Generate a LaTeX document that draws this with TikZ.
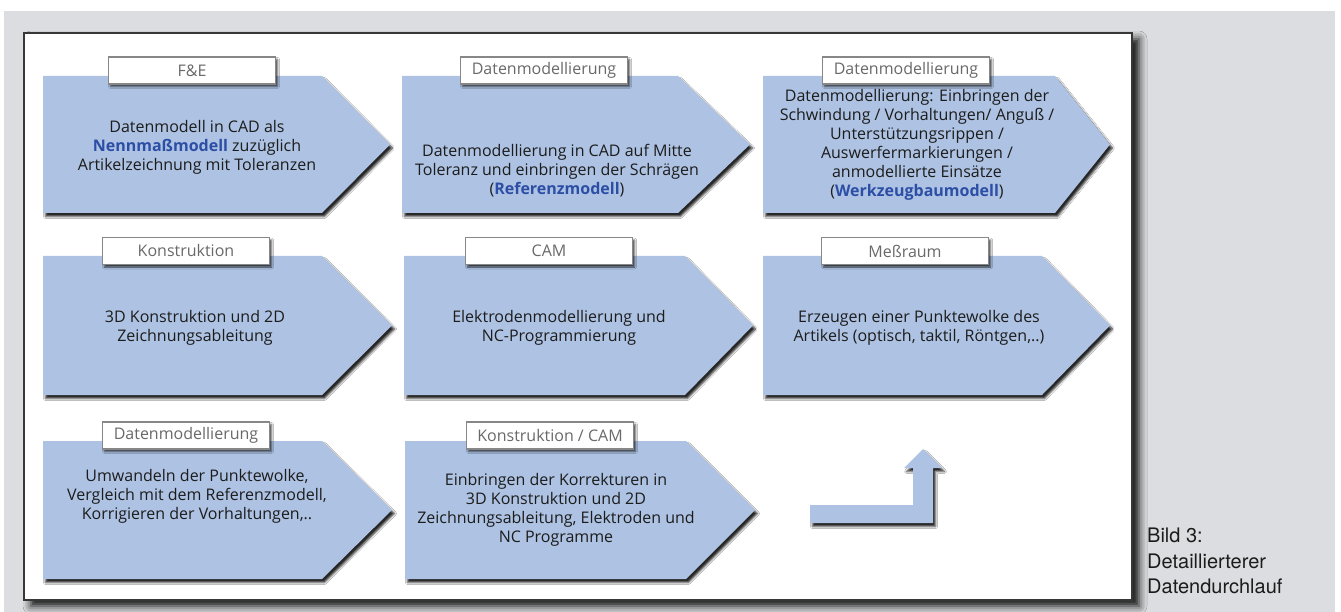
\documentclass[tikz,border=0pt]{standalone}
\usepackage{fontspec}
\setmainfont{Open Sans}
\newfontfamily\capfont{TeX Gyre Heros}
\usetikzlibrary{shadows,shadows.blur}
\definecolor{bgray}{RGB}{220,221,224}
\definecolor{chevfill}{RGB}{174,195,227}
\definecolor{hiblue}{RGB}{45,78,165}
\definecolor{txt}{RGB}{28,28,28}
\definecolor{lbltxt}{RGB}{105,105,105}
\definecolor{lblline}{RGB}{135,135,135}
\definecolor{panelline}{RGB}{55,55,55}
\newcommand\chevpath[5]{\path[chev] (#1,#2) -- (#4,#2) -- (#5,{(#2+#3)/2}) -- (#4,#3) -- (#1,#3) -- cycle;}
\newcommand\hiword[1]{\textbf{\color{hiblue}#1}}
\begin{document}
\begin{tikzpicture}[x=1pt,y=-1pt,
  chev/.style={fill=chevfill, blur shadow={shadow xshift=2.5pt, shadow yshift=-3.5pt, shadow blur radius=2pt, shadow opacity=85}},
  body/.style={align=center, font=\fontsize{16}{19}\selectfont, text=txt, inner sep=0pt},
  lbl/.style={draw=lblline, line width=1.2pt, fill=white, minimum width=167pt, minimum height=27pt,
    font=\fontsize{16}{18}\selectfont, text=lbltxt, inner sep=0pt,
    blur shadow={shadow xshift=2pt, shadow yshift=-2.5pt, shadow blur radius=2pt, shadow opacity=75}},
  captxt/.style={align=left, font=\capfont\fontsize{20}{25.5}\selectfont, text=txt, inner sep=0pt}]
\useasboundingbox (0,0) rectangle (1341,612);
\fill[white] (0,0) rectangle (1341,612);
\fill[bgray] (4,11) rectangle (1335,612);
% panel
\path[fill=white, draw=panelline, line width=1.5pt,
  blur shadow={shadow xshift=7pt, shadow yshift=-6pt, shadow blur radius=8pt, shadow opacity=95}]
  (24,33) rectangle (1132,600);
% row 1
\chevpath{43}{76}{213}{322}{390}
\chevpath{402}{76}{213}{678}{750}
\chevpath{763}{76}{213}{1055}{1110}
% row 2
\chevpath{43}{256}{395}{322}{392}
\chevpath{404}{256}{395}{685}{753}
\chevpath{763}{256}{395}{1042}{1110}
% row 3
\chevpath{43}{441}{579}{322}{392}
\chevpath{405}{441}{579}{686}{755}
% bent arrow
\path[chev] (810,505) -- (913,505) -- (913,468) -- (904,468) -- (923,449) -- (942,468) -- (933,468) -- (933,523) -- (810,523) -- cycle;
% labels
\node[lbl] (l1) at (192,70.5) {F\&E};
\node[lbl] (l2) at (544,70.5) {Datenmodellierung};
\node[lbl] (l3) at (906,70.5) {Datenmodellierung};
\node[lbl] (l4) at (186,251) {Konstruktion};
\node[lbl] (l5) at (549,251) {CAM};
\node[lbl] (l6) at (905,251) {Meßraum};
\node[lbl] (l7) at (186,435.5) {Datenmodellierung};
\node[lbl] (l8) at (550,435.5) {Konstruktion / CAM};
% body texts
\node[body] (t1) at (197,147) {Datenmodell in CAD als\\\hiword{Nennmaßmodell} zuzüglich\\Artikelzeichnung mit Toleranzen};
\node[body] (t2) at (557,171) {Datenmodellierung in CAD auf Mitte\\Toleranz und einbringen der Schrägen\\(\hiword{Referenzmodell})};
\node[body] (t3) at (917,145) {Datenmodellierung: Einbringen der\\Schwindung / Vorhaltungen/ Anguß /\\Unterstützungsrippen /\\Auswerfermarkierungen /\\anmodellierte Einsätze\\(\hiword{Werkzeugbaumodell})};
\node[body] (t4) at (195,328) {3D Konstruktion und 2D\\Zeichnungsableitung};
\node[body] (t5) at (559,328) {Elektrodenmodellierung und\\NC-Programmierung};
\node[body] (t6) at (919,328) {Erzeugen einer Punktewolke des\\Artikels (optisch, taktil, Röntgen,..)};
\node[body] (t7) at (197,496) {Umwandeln der Punktewolke,\\Vergleich mit dem Referenzmodell,\\Korrigieren der Vorhaltungen,..};
\node[body] (t8) at (556,510) {Einbringen der Korrekturen in\\3D Konstruktion und 2D\\Zeichnungsableitung, Elektroden und\\NC Programme};
% caption
\node[captxt, anchor=north west] (cap) at (1147,528) {Bild 3:\\Detaillierterer\\Datendurchlauf};
\end{tikzpicture}
\end{document}
